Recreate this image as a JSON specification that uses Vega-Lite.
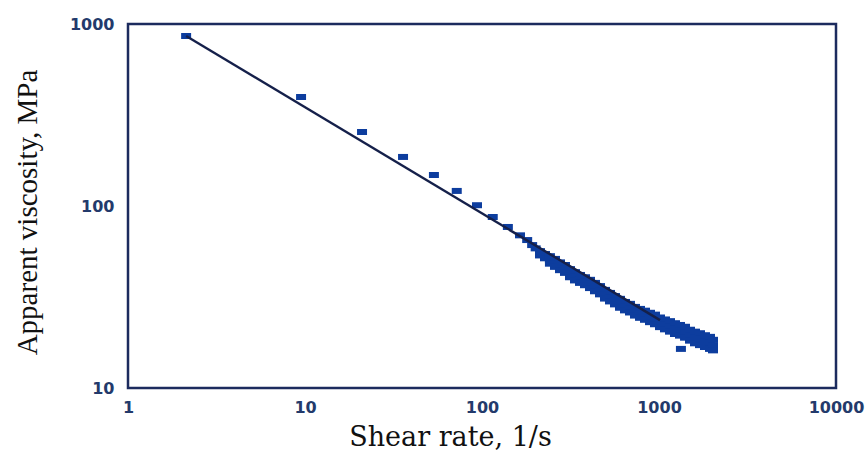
{
  "$schema": "https://vega.github.io/schema/vega-lite/v6.json",
  "width": 708,
  "height": 364,
  "autosize": "none",
  "padding": {"left": 128, "top": 24, "right": 32, "bottom": 63},
  "background": "white",
  "config": {
    "view": {"stroke": "#1c2b5e", "strokeWidth": 2.5},
    "axis": {"grid": false, "domain": false, "ticks": false}
  },
  "datasets": {
    "pts": [
      {"x": 2.13, "y": 859}, {"x": 9.5, "y": 397}, {"x": 21, "y": 255}, {"x": 35.8, "y": 186},
      {"x": 53.5, "y": 148}, {"x": 72, "y": 121}, {"x": 93.7, "y": 101}, {"x": 115, "y": 87},
      {"x": 140, "y": 76.7}, {"x": 164, "y": 69}, {"x": 180, "y": 65}, {"x": 192, "y": 61}, {"x": 201, "y": 58.5},
      {"x": 212.7, "y": 56.5}, {"x": 212.7, "y": 53.5},
      {"x": 227, "y": 54.5}, {"x": 227, "y": 51.6},
      {"x": 242, "y": 53.0}, {"x": 242, "y": 50.5}, {"x": 242, "y": 48.2},
      {"x": 258.5, "y": 51.2}, {"x": 258.5, "y": 48.6}, {"x": 258.5, "y": 46.3},
      {"x": 275.9, "y": 49.0}, {"x": 275.9, "y": 46.8}, {"x": 275.9, "y": 44.4},
      {"x": 294.4, "y": 47.4}, {"x": 294.4, "y": 45.1}, {"x": 294.4, "y": 42.9},
      {"x": 314.2, "y": 45.0}, {"x": 314.2, "y": 42.8}, {"x": 314.2, "y": 40.6},
      {"x": 335.3, "y": 43.3}, {"x": 335.3, "y": 41.2}, {"x": 335.3, "y": 39.0},
      {"x": 357.9, "y": 41.8}, {"x": 357.9, "y": 39.7}, {"x": 357.9, "y": 37.8},
      {"x": 381.9, "y": 40.6}, {"x": 381.9, "y": 38.7}, {"x": 381.9, "y": 36.7},
      {"x": 407.6, "y": 39.3}, {"x": 407.6, "y": 37.3}, {"x": 407.6, "y": 35.4},
      {"x": 434.9, "y": 37.8}, {"x": 434.9, "y": 35.9}, {"x": 434.9, "y": 34.0},
      {"x": 464.2, "y": 36.3}, {"x": 464.2, "y": 34.5}, {"x": 464.2, "y": 32.7},
      {"x": 495.4, "y": 34.6}, {"x": 495.4, "y": 32.8}, {"x": 495.4, "y": 31.0},
      {"x": 528.7, "y": 33.3}, {"x": 528.7, "y": 31.6}, {"x": 528.7, "y": 29.9},
      {"x": 564.1, "y": 32.0}, {"x": 564.1, "y": 30.4}, {"x": 564.1, "y": 28.8},
      {"x": 602.2, "y": 30.9}, {"x": 602.2, "y": 29.3}, {"x": 602.2, "y": 27.6},
      {"x": 642.6, "y": 29.7}, {"x": 642.6, "y": 28.2}, {"x": 642.6, "y": 26.7},
      {"x": 685.9, "y": 29.0}, {"x": 685.9, "y": 27.5}, {"x": 685.9, "y": 26.0},
      {"x": 731.9, "y": 27.9}, {"x": 731.9, "y": 26.5}, {"x": 731.9, "y": 25.0},
      {"x": 781.2, "y": 27.2}, {"x": 781.2, "y": 25.8}, {"x": 781.2, "y": 24.3},
      {"x": 833.6, "y": 26.6}, {"x": 833.6, "y": 25.2}, {"x": 833.6, "y": 23.7},
      {"x": 889.7, "y": 25.9}, {"x": 889.7, "y": 24.5}, {"x": 889.7, "y": 23.0},
      {"x": 949.3, "y": 25.3}, {"x": 949.3, "y": 23.9}, {"x": 949.3, "y": 22.4},
      {"x": 1013, "y": 24.4}, {"x": 1013, "y": 23.0}, {"x": 1013, "y": 21.6},
      {"x": 1081, "y": 23.8}, {"x": 1081, "y": 22.4}, {"x": 1081, "y": 21.0},
      {"x": 1154, "y": 23.3}, {"x": 1154, "y": 21.9}, {"x": 1154, "y": 20.4},
      {"x": 1231, "y": 22.7}, {"x": 1231, "y": 21.3}, {"x": 1231, "y": 19.8},
      {"x": 1314, "y": 22.2}, {"x": 1314, "y": 20.8}, {"x": 1314, "y": 19.4},
      {"x": 1403, "y": 21.7}, {"x": 1403, "y": 20.3}, {"x": 1403, "y": 18.9},
      {"x": 1497, "y": 20.9}, {"x": 1497, "y": 19.5}, {"x": 1497, "y": 18.2},
      {"x": 1597, "y": 20.4}, {"x": 1597, "y": 19.0}, {"x": 1597, "y": 17.6},
      {"x": 1705, "y": 20.0}, {"x": 1705, "y": 18.6}, {"x": 1705, "y": 17.2},
      {"x": 1819, "y": 19.5}, {"x": 1819, "y": 18.1}, {"x": 1819, "y": 16.8},
      {"x": 1941, "y": 19.1}, {"x": 1941, "y": 17.7}, {"x": 1941, "y": 16.4},
      {"x": 2019, "y": 18.4}, {"x": 2019, "y": 17.2}, {"x": 2019, "y": 16.1},
      {"x": 1330, "y": 16.4}
    ],
    "fit": [
      {"x": 2.13, "y": 859},
      {"x": 1013, "y": 23.6}
    ]
  },
  "layer": [
    {
      "data": {"name": "pts"},
      "mark": {"type": "point", "filled": true, "opacity": 1, "color": "#0d3d9e",
               "shape": "M-1,-0.6L1,-0.6L1,0.6L-1,0.6Z", "size": 100},
      "encoding": {
        "x": {
          "field": "x", "type": "quantitative",
          "scale": {"type": "log", "domain": [1, 10000]},
          "axis": {
            "values": [1, 10, 100, 1000, 10000], "format": "d",
            "labelFont": "DejaVu Sans", "labelFontSize": 16, "labelFontWeight": "bold",
            "labelColor": "#233a6b", "labelPadding": 11, "labelFlush": false,
            "title": "Shear rate, 1/s", "titleFont": "DejaVu Serif", "titleFontSize": 27,
            "titleFontWeight": "normal", "titleColor": "#111111",
            "titleX": 322, "titleY": 57, "titleAlign": "center", "titleBaseline": "alphabetic"
          }
        },
        "y": {
          "field": "y", "type": "quantitative",
          "scale": {"type": "log", "domain": [10, 1000]},
          "axis": {
            "values": [10, 100, 1000], "format": "d",
            "labelFont": "DejaVu Sans", "labelFontSize": 16, "labelFontWeight": "bold",
            "labelColor": "#233a6b", "labelPadding": 14, "labelFlush": false,
            "title": "Apparent viscosity, MPa", "titleFont": "Liberation Serif", "titleFontSize": 29,
            "titleFontWeight": "normal", "titleColor": "#111111",
            "titleX": -92, "titleY": 188, "titleAlign": "center", "titleBaseline": "alphabetic", "titleAngle": -90
          }
        }
      }
    },
    {
      "data": {"name": "fit"},
      "mark": {"type": "line", "color": "#15204a", "strokeWidth": 2.4},
      "encoding": {
        "x": {"field": "x", "type": "quantitative"},
        "y": {"field": "y", "type": "quantitative"}
      }
    }
  ]
}
